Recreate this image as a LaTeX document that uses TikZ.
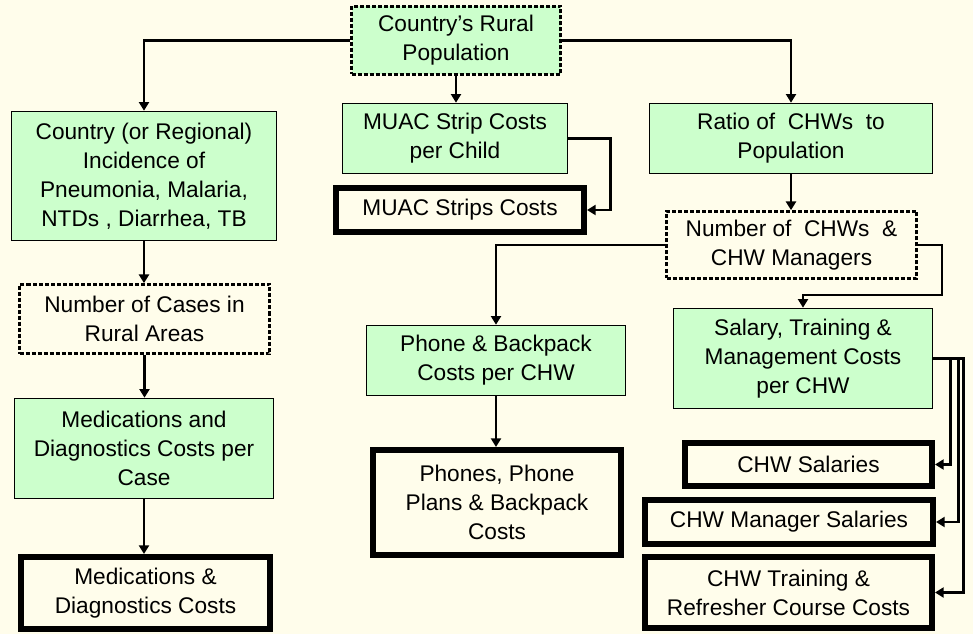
\documentclass[tikz,border=0pt]{standalone}
\usepackage{fontspec}
\setmainfont{Liberation Sans}
\usetikzlibrary{arrows.meta}
\definecolor{bgc}{HTML}{FFFDEB}
\definecolor{boxgreen}{HTML}{CCFFCC}
\begin{document}
\begin{tikzpicture}[x=0.75pt,y=-0.75pt,
  sz/.style 2 args={minimum width=#1*0.75pt, minimum height=#2*0.75pt},
  base/.style={inner sep=1pt, align=center, font=\fontsize{17}{21.75}\selectfont, text=black},
  greenbox/.style={base, draw=black, line width=1.2pt, fill=boxgreen},
  dashbox/.style={base, draw=black, line width=2pt, dash pattern=on 3pt off 1.5pt, fill=bgc},
  dashgreen/.style={dashbox, fill=boxgreen},
  thickbox/.style={base, draw=black, line width=4.5pt, fill=bgc},
  arr/.style={draw=black, line width=2pt, -{Triangle[width=7.5pt,length=6.5pt]}}
]
\fill[bgc] (0,0) rectangle (973,634);
\useasboundingbox (0,0) rectangle (973,634);

% nodes
\node[dashgreen, sz={209}{68}] (rural) at (456,40.5) {Country’s Rural\\Population};
\node[greenbox, sz={265}{129}] (incid) at (144,176) {Country (or Regional)\\Incidence of\\Pneumonia, Malaria,\\NTDs , Diarrhea, TB};
\node[dashbox, sz={250}{69}] (cases) at (144.5,319) {Number of Cases in\\Rural Areas};
\node[greenbox, sz={259}{100}] (meds) at (144,448.5) {Medications and\\Diagnostics Costs per\\Case};
\node[thickbox, sz={249}{72}] (medcost) at (145.5,593) {Medications \&\\Diagnostics Costs};
\node[greenbox, sz={225}{70}] (muacpc) at (455,138.5) {MUAC Strip Costs\\per Child};
\node[thickbox, sz={248}{44}] (muacs) at (460,210) {MUAC Strips Costs};
\node[greenbox, sz={283}{70}] (ratio) at (791,138.5) {Ratio of~ CHWs~ to\\Population};
\node[dashbox, sz={250}{67}] (numchw) at (791.5,245) {Number of~ CHWs~ \&\\CHW Managers};
\node[greenbox, sz={259}{70}] (phone) at (496,360.5) {Phone \& Backpack\\Costs per CHW};
\node[thickbox, sz={248}{105}] (phones) at (497,502.5) {Phones, Phone\\Plans \& Backpack\\Costs};
\node[greenbox, sz={259}{100}] (salary) at (803,358.5) {Salary, Training \&\\Management Costs\\per CHW};
\node[thickbox, sz={247}{43}] (chws) at (808.5,464.5) {CHW Salaries};
\node[thickbox, sz={288}{44}] (chwm) at (789,522) {CHW Manager Salaries};
\node[thickbox, sz={287}{71}] (chwt) at (788.5,592.5) {CHW Training \&\\Refresher Course Costs};

% junction coordinates
\coordinate (j1) at (942,295);

% connectors
\draw[arr] (rural.west) -| (incid.north);
\draw[arr] (rural.east) -| (ratio.north);
\draw[arr] (rural.south) -- (rural.south |- muacpc.north);
\draw[arr] (muacpc.east) -- ++(42,0) |- (muacs.east);
\draw[arr] (ratio.south) -- (ratio.south |- numchw.north);
\draw[arr] (numchw.west) -| (phone.north);
\draw[arr] (numchw.east) -| (j1) -| (salary.north);
\draw[arr] (phone.south) -- (phone.south |- phones.north);
\draw[arr] (salary.east) -- ++(17,0) |- (chws.east);
\draw[arr] (salary.east) -- ++(25,0) |- (chwm.east);
\draw[arr] (salary.east) -- ++(30,0) |- (chwt.east);
\draw[arr] (incid.south) -- (incid.south |- cases.north);
\draw[arr] (cases.south) -- (cases.south |- meds.north);
\draw[arr] (meds.south) -- (meds.south |- medcost.north);
\end{tikzpicture}
\end{document}
